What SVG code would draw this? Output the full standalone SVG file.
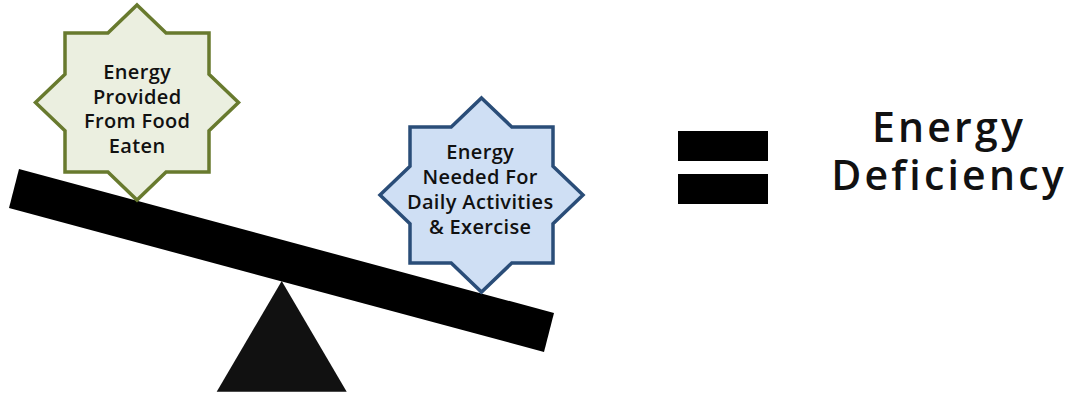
<svg xmlns="http://www.w3.org/2000/svg" width="1073" height="394" viewBox="0 0 1073 394">
<style>
.star-txt{font-family:"Open Sans","Liberation Sans",sans-serif;font-size:20px;font-weight:600;letter-spacing:0.35px;fill:#111;text-anchor:middle}
.big{font-family:"Open Sans","Liberation Sans",sans-serif;font-size:41px;font-weight:600;letter-spacing:3.2px;fill:#111;text-anchor:middle}
.green{fill:#EBEFE0;stroke:#687A2E;stroke-width:3.5;stroke-linejoin:miter}
.blue{fill:#CFDFF4;stroke:#2A4D78;stroke-width:3.5;stroke-linejoin:miter}
</style>
<rect width="1073" height="394" fill="#fff"/>
<g id="fulcrum">
<polygon points="281.7,281 346.7,391.7 216.7,391.7" fill="#111"/>
</g>
<g id="beam">
<polygon points="19,169 554,313 544,352 9,208" fill="#000"/>
</g>
<g id="star-food">
<polygon class="green" points="137,5 166.1,33 209,33 209,74.2 238.5,102.5 209,130.8 209,172 166.1,172 137,200 107.9,172 65,172 65,130.8 35.5,102.5 65,74.2 65,33 107.9,33"/>
<text class="star-txt" x="137.2" y="79">Energy</text>
<text class="star-txt" x="137.2" y="103.5">Provided</text>
<text class="star-txt" x="137.2" y="128.3">From Food</text>
<text class="star-txt" x="137.2" y="152.7">Eaten</text>
</g>
<g id="star-needed">
<polygon class="blue" points="481.5,98 511.8,127 553,127 553,166.3 583,195 553,223.7 553,263 511.8,263 481.5,292 451.2,263 410,263 410,223.7 380,195 410,166.3 410,127 451.2,127"/>
<text class="star-txt" x="480.2" y="158.5">Energy</text>
<text class="star-txt" x="480.2" y="184">Needed For</text>
<text class="star-txt" x="480.2" y="209.3">Daily Activities</text>
<text class="star-txt" x="480.2" y="234">&amp; Exercise</text>
</g>
<g id="equals">
<rect x="678" y="131" width="90" height="30" fill="#000"/>
<rect x="678" y="174" width="90" height="30" fill="#000"/>
</g>
<g id="result">
<text class="big" x="949" y="142">Energy</text>
<text class="big" x="949" y="190">Deficiency</text>
</g>
<g id="connectors"></g>
</svg>
